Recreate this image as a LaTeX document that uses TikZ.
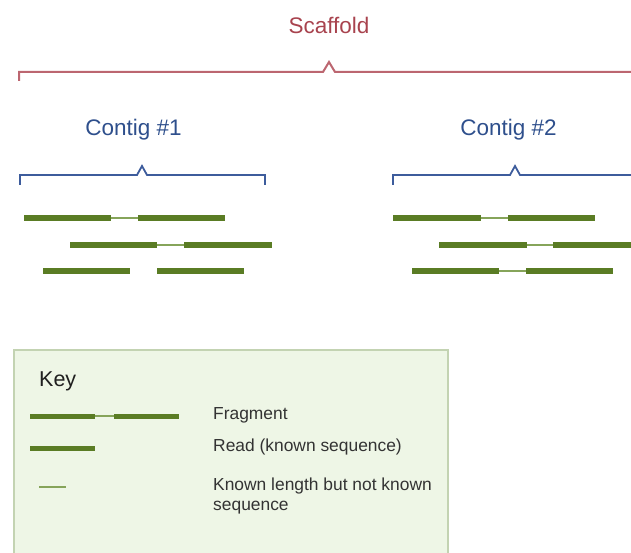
\documentclass[tikz,border=0pt]{standalone}
\usepackage{fontspec}
\setmainfont{Liberation Sans}
\definecolor{scaffoldred}{HTML}{A8434E}
\definecolor{bracketred}{HTML}{BC6670}
\definecolor{contigblue}{HTML}{2E4F8C}
\definecolor{bracketblue}{HTML}{3D5C9C}
\definecolor{readgreen}{HTML}{5A7C24}
\definecolor{gapgreen}{HTML}{86A45A}
\definecolor{keyfill}{HTML}{EEF6E6}
\definecolor{keyborder}{HTML}{C3D3B2}
\definecolor{labelgray}{HTML}{333333}
\tikzset{
  readbar/.style={draw=readgreen, line width=6pt, line cap=butt},
  keybar/.style={draw=readgreen, line width=5pt, line cap=butt},
  gapline/.style={draw=gapgreen, line width=1.2pt},
  titletext/.style={font=\fontsize{22.5}{27}\selectfont},
  keytext/.style={font=\fontsize{17.4}{20}\selectfont, text=labelgray, anchor=west, inner sep=0pt},
}
\begin{document}
\begin{tikzpicture}[x=1pt, y=-1pt]
  \useasboundingbox (0,0) rectangle (631,553);
  \clip (0,0) rectangle (631,553);

  % scaffold bracket and title
  \node[titletext, text=scaffoldred] (scaffold) at (329,25.5) {Scaffold};
  \draw[bracketred, line width=2pt, line join=miter]
    (19,81) -- (19,72) -- (323,72) -- (329,62) -- (335,72) -- (640,72);

  % contig brackets and titles
  \node[titletext, text=contigblue] (contigA) at (133.5,129.5) {Contig \#1};
  \node[titletext, text=contigblue] (contigB) at (508.5,129.5) {Contig \#2};
  \draw[bracketblue, line width=1.8pt]
    (20,185) -- (20,175) -- (137,175) -- (142,166) -- (147,175) -- (265,175) -- (265,185);
  \draw[bracketblue, line width=1.8pt]
    (393,185) -- (393,175) -- (510,175) -- (515,166) -- (520,175) -- (640,175);

  % reads of contig #1 (gap line drawn first, reads on top)
  \draw[gapline] (111,218) -- (138,218);
  \draw[readbar] (24,218) -- (111,218);
  \draw[readbar] (138,218) -- (225,218);
  \draw[gapline] (157,245) -- (184,245);
  \draw[readbar] (70,245) -- (157,245);
  \draw[readbar] (184,245) -- (272,245);
  \draw[readbar] (43,271) -- (130,271);
  \draw[readbar] (157,271) -- (244,271);

  % reads of contig #2
  \draw[gapline] (481,218) -- (508,218);
  \draw[readbar] (393,218) -- (481,218);
  \draw[readbar] (508,218) -- (595,218);
  \draw[gapline] (527,245) -- (553,245);
  \draw[readbar] (439,245) -- (527,245);
  \draw[readbar] (553,245) -- (640,245);
  \draw[gapline] (499,271) -- (526,271);
  \draw[readbar] (412,271) -- (499,271);
  \draw[readbar] (526,271) -- (613,271);

  % key box
  \draw[fill=keyfill, draw=keyborder, line width=1.5pt] (14,350) rectangle (448,570);
  \node[font=\fontsize{21.5}{25}\selectfont, text=black!88, anchor=west, inner sep=0pt] (key) at (39,381) {Key};

  \draw[gapline] (95,416) -- (114,416);
  \draw[keybar] (30,416) -- (95,416);
  \draw[keybar] (114,416) -- (179,416);
  \node[keytext] (fragment) at (213,415) {Fragment};

  \draw[keybar] (30,448) -- (95,448);
  \node[keytext] (read) at (213,447) {Read (known sequence)};

  \draw[gapline] (39,487) -- (66,487);
  \node[keytext, align=left] (unknown) at (213,496) {Known length but not known\\sequence};
\end{tikzpicture}
\end{document}
